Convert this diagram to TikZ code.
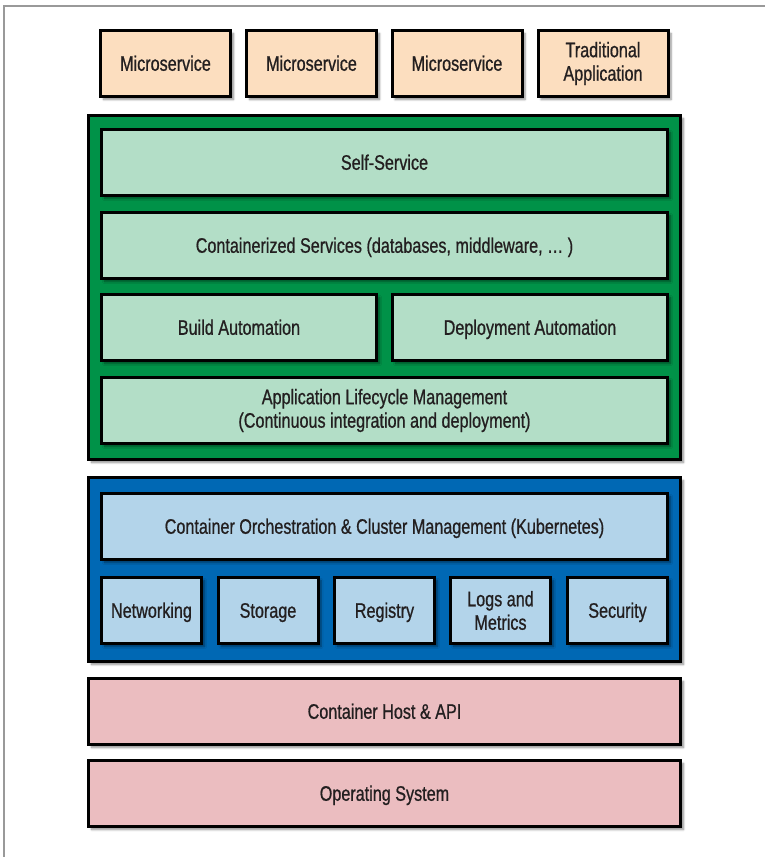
\documentclass[tikz,border=0pt]{standalone}
\usepackage{fontspec}
\setmainfont{Liberation Sans}[FakeStretch=0.77, FakeBold=0.8]
\usepackage{tikz}
\usetikzlibrary{shadows.blur}
\definecolor{peach}{RGB}{252, 222, 191}
\definecolor{darkgreen}{RGB}{0, 146, 72}
\definecolor{mint}{RGB}{179, 222, 199}
\definecolor{darkblue}{RGB}{0, 104, 180}
\definecolor{skyblue}{RGB}{179, 212, 234}
\definecolor{rosepink}{RGB}{235, 189, 192}
\definecolor{ink}{RGB}{35, 31, 32}

\begin{document}
\begin{tikzpicture}[x=1pt, y=-1pt,
    layer/.style={draw=black, line width=3pt, inner sep=0pt, align=center,
        text=ink, font=\fontsize{21}{23.5}\selectfont,
        blur shadow={shadow xshift=3pt, shadow yshift=-3pt, shadow blur steps=6, shadow opacity=45}},
    oneline/.style={text height=17pt, text depth=2.5pt},
    appbox/.style={layer, fill=peach, minimum width=130, minimum height=66},
    paasbox/.style={layer, fill=mint, minimum height=66},
    orchbox/.style={layer, fill=skyblue, minimum height=66},
    hostbox/.style={layer, oneline, fill=rosepink, minimum width=592, minimum height=66}]
    \useasboundingbox (0,0) rectangle (765,857);
    % frame
    \draw[gray!80, line width=1.5pt] (4,857) -- (4,6) -- (765,6);

    % applications on top
    \node[appbox, oneline] (ms1) at (165.5,63.5) {Microservice};
    \node[appbox, oneline] (ms2) at (311.5,63.5) {Microservice};
    \node[appbox, oneline] (ms3) at (457,63.5) {Microservice};
    \node[appbox] (trad) at (603,63.5) {Traditional\\Application};

    % platform services
    \node[layer, fill=darkgreen, minimum width=592, minimum height=344] (paas) at (384.5,287.5) {};
    \node[paasbox, oneline, minimum width=566] (self) at (384.5,162.5) {Self-Service};
    \node[paasbox, oneline, minimum width=566] (svc) at (384.5,245.5) {Containerized Services (databases, middleware, \dots\ )};
    \node[paasbox, oneline, minimum width=275] (build) at (239,327.5) {Build Automation};
    \node[paasbox, oneline, minimum width=275] (deploy) at (530,327.5) {Deployment Automation};
    \node[paasbox, minimum width=566] (alm) at (384.5,410.5) {Application Lifecycle Management\\(Continuous integration and deployment)};

    % orchestration
    \node[layer, fill=darkblue, minimum width=592, minimum height=184] (orch) at (384.5,569.5) {};
    \node[orchbox, oneline, minimum width=566] (k8s) at (384.5,526.5) {Container Orchestration \& Cluster Management (Kubernetes)};
    \foreach \cx/\name/\txt in {151.5/net/Networking, 268/stor/Storage, 384.5/reg/Registry, 617.5/sec/Security} {
        \node[orchbox, oneline, minimum width=100] (\name) at (\cx,610.5) {\txt};
    }
    \node[orchbox, minimum width=100] (logs) at (500.5,610.5) {Logs and\\Metrics};

    % host
    \node[hostbox] (host) at (384.5,711.5) {Container Host \& API};
    \node[hostbox] (os) at (384.5,793.5) {Operating System};
\end{tikzpicture}
\end{document}
